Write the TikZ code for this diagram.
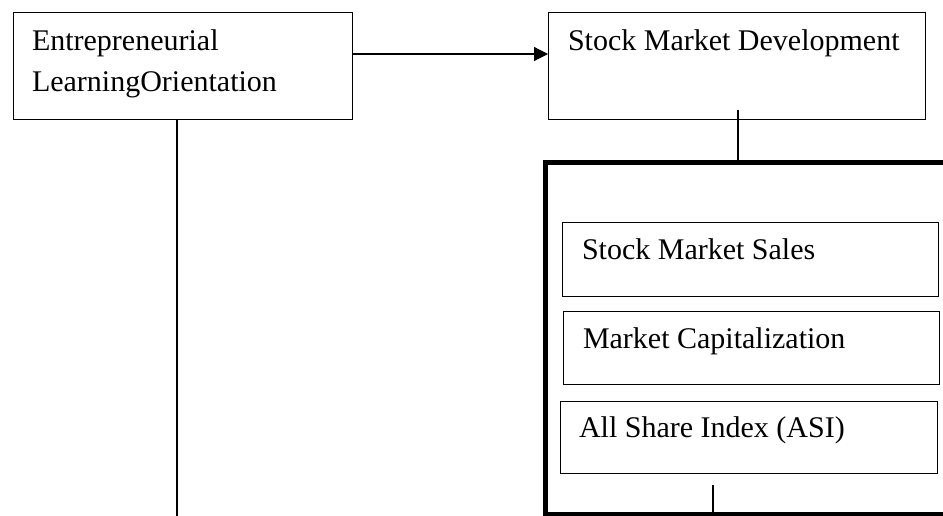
\documentclass[tikz,border=0pt]{standalone}
\usepackage{fontspec}
\setmainfont{Liberation Serif}
\usetikzlibrary{arrows.meta}
\begin{document}
\begin{tikzpicture}[x=1pt,y=-1pt,
  box/.style={draw=black, line width=1pt, rectangle, inner sep=0pt, outer sep=0pt, anchor=north west},
  groupbox/.style={draw=black, line width=5pt, rectangle, inner sep=0pt, outer sep=0pt, anchor=north west},
  txt/.style={inner sep=0pt, outer sep=0pt, font=\fontsize{30}{41}\selectfont},
  conn/.style={draw=black, line width=1.2pt},
  arr/.style={conn, -{Triangle[length=14pt,width=14pt]}}]
\useasboundingbox (0,0) rectangle (943,516);
\clip (0,0) rectangle (943,516);
% boxes
\node[box, minimum width=339pt, minimum height=107pt] (elo) at (13,13) {};
\node[box, minimum width=377pt, minimum height=107pt] (smd) at (548,13) {};
\node[groupbox, minimum width=402.5pt, minimum height=351.5pt] (group) at (545.5,162.5) {};
\node[box, minimum width=376pt, minimum height=74pt] (sms) at (562,222) {};
\node[box, minimum width=376pt, minimum height=73pt] (mc) at (563,311) {};
\node[box, minimum width=377pt, minimum height=72pt] (asi) at (560,401) {};
% texts
\node[txt, anchor=north west, align=left] (elot) at (32,29.5) {Entrepreneurial\\LearningOrientation};
\node[txt, anchor=base west] (smdt) at (568,51) {Stock Market Development};
\node[txt, anchor=base west] (smst) at (582,259) {Stock Market Sales};
\node[txt, anchor=base west] (mct) at (583,348) {Market Capitalization};
\node[txt, anchor=base west] (asit) at (579,437) {All Share Index (ASI)};
% connectors
\coordinate (eloend) at (177,520);
\coordinate (smdfoot) at ([xshift=1.5pt,yshift=10pt]smd.south);
\coordinate (asifoot) at ([xshift=-35.5pt,yshift=-12pt]asi.south);
\draw[arr] ([yshift=12.5pt]elo.east) -- ([yshift=12.5pt]smd.west);
\draw[conn] (smdfoot) -- (smdfoot |- group.north);
\draw[conn] ([xshift=-5.5pt]elo.south) -- ([xshift=-5.5pt]elo.south |- eloend);
\draw[conn] (asifoot) -- (asifoot |- group.south);
\end{tikzpicture}
\end{document}
